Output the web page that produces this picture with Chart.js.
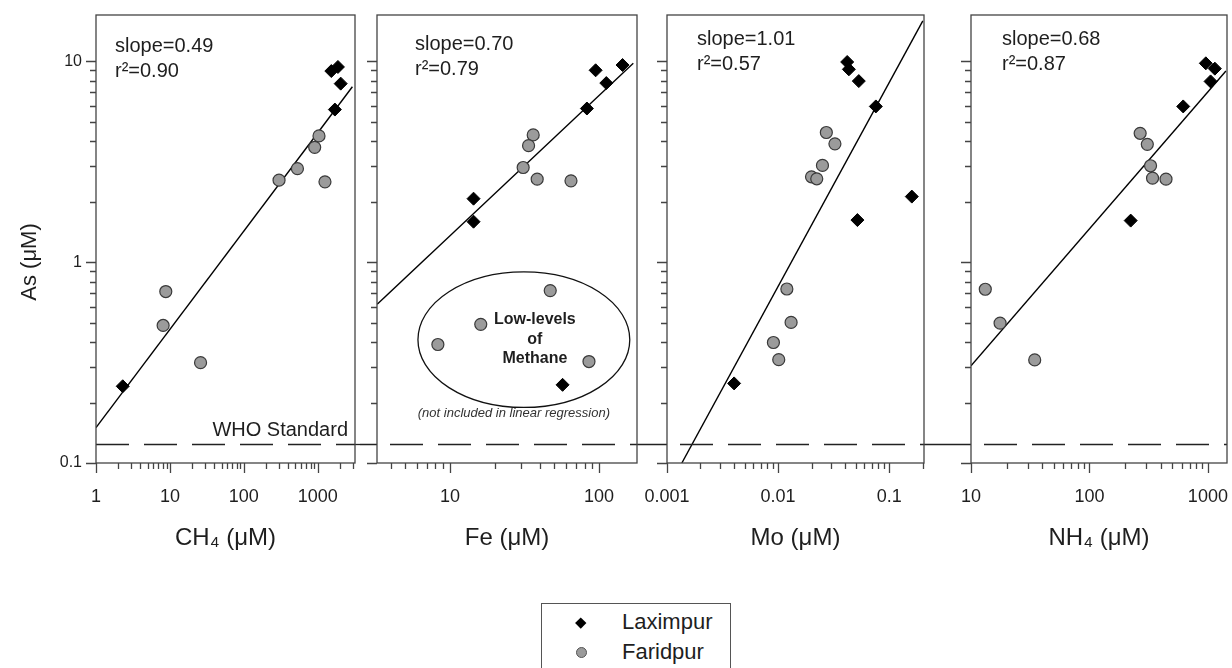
<!DOCTYPE html>
<html>
<head>
<meta charset="utf-8">
<script src="https://cdn.jsdelivr.net/npm/chart.js@4.4.1/dist/chart.umd.min.js"></script>
<style>
  html, body { margin: 0; padding: 0; background: #fff; }
  body { width: 1232px; height: 668px; position: relative; overflow: hidden;
         font-family: 'Liberation Sans', Arial, sans-serif; color: #1e1e1e; }
  .panel { position: absolute; top: 0; height: 560px; }
  #legend { position: absolute; left: 541px; top: 603px; width: 190px; height: 80px;
            border: 1.5px solid #555; box-sizing: border-box; }
  #legend .mark, #legend .label { position: absolute; }
  #legend .label { left: 80px; font-size: 22px; line-height: 24px; }
  #legend .dia { width: 7.5px; height: 7.5px; background: #000; transform: rotate(45deg); left: 35px; }
  #legend .dot { width: 9px; height: 9px; border-radius: 50%; background: #9b9b9b;
                 border: 1px solid #555; left: 34px; }
</style>
</head>
<body>
<div class="panel" style="left:0;width:360px"><canvas id="ch4"></canvas></div>
<div class="panel" style="left:360px;width:282px"><canvas id="fe"></canvas></div>
<div class="panel" style="left:642px;width:287px"><canvas id="mo"></canvas></div>
<div class="panel" style="left:929px;width:303px"><canvas id="nh4"></canvas></div>
<div id="legend">
  <span class="mark dia" style="top:14.5px"></span><span class="label" style="top:6px">Laximpur</span>
  <span class="mark dot" style="top:43px"></span><span class="label" style="top:36px">Faridpur</span>
</div>
<script>
// As (µM) versus CH4, Fe, Mo and NH4 (µM)
const asRange = [0.1, 17];
const whoStandard = 0.125;

const ch4Range = [1, 3200];
const ch4Laximpur = [1530, 1880, 2050, 1710, 2.3];
const asCh4Laximpur = [8.94, 9.37, 7.74, 5.75, 0.241];
const ch4Faridpur = [300, 532, 911, 1042, 1255, 8.8, 8.1, 26];
const asCh4Faridpur = [2.56, 2.92, 3.73, 4.25, 2.51, 0.714, 0.484, 0.316];
const ch4FitX = [1, 2950];
const ch4FitY = [0.150, 7.47];

const feRange = [3.24, 180];
const feLaximpur = [95, 144, 112, 83, 14.4, 14.4, 57];
const asFeLaximpur = [9.02, 9.58, 7.79, 5.82, 2.07, 1.59, 0.245];
const feFaridpur = [36.2, 33.7, 31.0, 38.5, 64.9, 47.1, 16.1, 8.3, 85.7];
const asFeFaridpur = [4.30, 3.80, 2.96, 2.59, 2.54, 0.722, 0.490, 0.389, 0.320];
const feFitX = [3.25, 170];
const feFitY = [0.617, 9.77];
// the "low levels of methane" ellipse, as Fe and As bounds
const lowMethaneFe = [6.1, 161];
const lowMethaneAs = [0.189, 0.894];

const moRange = [0.001, 0.206];
const moLaximpur = [0.0419, 0.0434, 0.0533, 0.0759, 0.160, 0.0518, 0.00402];
const asMoLaximpur = [9.92, 9.12, 7.97, 5.96, 2.12, 1.62, 0.249];
const moFaridpur = [0.0272, 0.0325, 0.0251, 0.0200, 0.0223, 0.0120, 0.0131, 0.00908, 0.01014];
const asMoFaridpur = [4.42, 3.88, 3.03, 2.66, 2.60, 0.735, 0.501, 0.398, 0.327];
const moFitX = [0.00136, 0.201];
const moFitY = [0.1, 15.9];

const nh4Range = [10, 1450];
const nh4Laximpur = [961, 1145, 1054, 619, 223];
const asNh4Laximpur = [9.77, 9.19, 7.94, 5.96, 1.61];
const nh4Faridpur = [268, 308, 328, 341, 443, 13.2, 17.6, 34.5];
const asNh4Faridpur = [4.38, 3.86, 3.02, 2.62, 2.59, 0.733, 0.497, 0.326];
const nh4FitX = [10, 1420];
const nh4FitY = [0.305, 8.94];

const FONT = "'Liberation Sans', Arial, sans-serif";
const INK = '#1e1e1e';
const FRAME = '#444';

const isPow10 = v => Math.abs(Math.log10(v) - Math.round(Math.log10(v))) < 1e-9;
const isNice = v => {
  const m = v / Math.pow(10, Math.floor(Math.log10(v) + 1e-9));
  return Math.abs(m - Math.round(m)) < 1e-6;
};
const fmt = v => String(parseFloat(v.toPrecision(6)));
const pts = (xs, ys) => xs.map((x, i) => ({ x: x, y: ys[i] }));

// per panel text and layout bits, looked up by canvas id
const panels = {
  ch4: { axisW: 96, slope: 'slope=0.49', r2: 'r\u00b2=0.90', tx: 19, ty: 52, first: true },
  fe:  { axisW: 17, slope: 'slope=0.70', r2: 'r\u00b2=0.79', tx: 38, ty: 50 },
  mo:  { axisW: 25, slope: 'slope=1.01', r2: 'r\u00b2=0.57', tx: 30, ty: 45 },
  nh4: { axisW: 42, slope: 'slope=0.68', r2: 'r\u00b2=0.87', tx: 31, ty: 45, last: true }
};

const panelDecor = {
  id: 'panelDecor',
  afterDraw(chart) {
    const p = panels[chart.canvas.id];
    const { ctx, chartArea: a } = chart;
    const x = chart.scales.x, y = chart.scales.y;
    ctx.save();

    // WHO standard line: dashed inside the frame, solid in the gaps
    const wy = Math.round(y.getPixelForValue(whoStandard)) + 0.5;
    ctx.strokeStyle = '#222';
    ctx.lineWidth = 1.3;
    ctx.beginPath();
    if (!p.first) { ctx.moveTo(0, wy); ctx.lineTo(a.left, wy); }
    if (!p.last) { ctx.moveTo(a.right, wy); ctx.lineTo(chart.width, wy); }
    ctx.stroke();
    ctx.setLineDash([33, 15]);
    ctx.lineDashOffset = p.first ? 0 : -13;
    ctx.beginPath();
    ctx.moveTo(a.left, wy); ctx.lineTo(a.right, wy);
    ctx.stroke();
    ctx.setLineDash([]);

    // frame
    ctx.strokeStyle = FRAME;
    ctx.lineWidth = 1.3;
    ctx.strokeRect(a.left, a.top, a.right - a.left, a.bottom - a.top);

    // log ticks, long on decades
    ctx.beginPath();
    x.ticks.forEach(t => {
      if (!isNice(t.value) || t.value < x.min || t.value > x.max) return;
      const px = Math.round(x.getPixelForValue(t.value)) + 0.5;
      ctx.moveTo(px, a.bottom);
      ctx.lineTo(px, a.bottom + (isPow10(t.value) ? 10 : 6));
    });
    y.ticks.forEach(t => {
      if (!isNice(t.value) || t.value < y.min || t.value > y.max) return;
      const py = Math.round(y.getPixelForValue(t.value)) + 0.5;
      ctx.moveTo(a.left, py);
      ctx.lineTo(a.left - (isPow10(t.value) ? 10 : 6), py);
    });
    ctx.stroke();

    // regression stats
    ctx.fillStyle = INK;
    ctx.font = '20px ' + FONT;
    ctx.textAlign = 'left';
    ctx.textBaseline = 'alphabetic';
    ctx.fillText(p.slope, a.left + p.tx, p.ty);
    ctx.fillText(p.r2, a.left + p.tx, p.ty + 25);

    if (p.first) {
      ctx.font = '20px ' + FONT;
      ctx.textAlign = 'right';
      ctx.fillText('WHO Standard', a.right - 7, wy - 9);
      ctx.save();
      ctx.translate(30, 262);
      ctx.rotate(-Math.PI / 2);
      ctx.textAlign = 'center';
      ctx.textBaseline = 'middle';
      ctx.font = '22px ' + FONT;
      ctx.fillText('As (\u03bcM)', 0, 0);
      ctx.restore();
    }

    if (chart.canvas.id === 'fe') {
      const x0 = x.getPixelForValue(lowMethaneFe[0]), x1 = x.getPixelForValue(lowMethaneFe[1]);
      const y0 = y.getPixelForValue(lowMethaneAs[1]), y1 = y.getPixelForValue(lowMethaneAs[0]);
      ctx.strokeStyle = '#111';
      ctx.lineWidth = 1.3;
      ctx.beginPath();
      ctx.ellipse((x0 + x1) / 2, (y0 + y1) / 2, (x1 - x0) / 2, (y1 - y0) / 2, 0, 0, Math.PI * 2);
      ctx.stroke();
      const cx = (x0 + x1) / 2 + 11;
      ctx.textAlign = 'center';
      ctx.textBaseline = 'middle';
      ctx.font = 'bold 16px ' + FONT;
      ctx.fillText('Low-levels', cx, 320);
      ctx.fillText('of', cx, 339.5);
      ctx.fillText('Methane', cx, 359);
      ctx.font = 'italic 13px ' + FONT;
      ctx.fillStyle = '#333';
      ctx.fillText('(not included in linear regression)', (x0 + x1) / 2 - 10, 413);
    }
    ctx.restore();
  }
};

function makePanel(id, range, xTitle, laxX, laxY, farX, farY, fitX, fitY) {
  const p = panels[id];
  return new Chart(document.getElementById(id), {
    type: 'scatter',
    data: {
      datasets: [
        {
          label: 'Laximpur',
          data: pts(laxX, laxY),
          pointStyle: 'rectRot',
          pointRadius: 6.5,
          backgroundColor: '#000',
          borderColor: '#000',
          borderWidth: 1
        },
        {
          label: 'Faridpur',
          data: pts(farX, farY),
          pointStyle: 'circle',
          pointRadius: 6,
          backgroundColor: '#9b9b9b',
          borderColor: '#3a3a3a',
          borderWidth: 1.2
        },
        {
          label: 'fit',
          type: 'line',
          data: pts(fitX, fitY),
          borderColor: '#000',
          borderWidth: 1.4,
          pointRadius: 0,
          fill: false
        }
      ]
    },
    options: {
      responsive: true,
      maintainAspectRatio: false,
      animation: false,
      events: [],
      layout: { autoPadding: false, padding: { top: 15, right: 5, left: 0, bottom: 0 } },
      plugins: { legend: { display: false }, tooltip: { enabled: false } },
      scales: {
        x: {
          type: 'logarithmic',
          min: range[0],
          max: range[1],
          border: { display: false },
          grid: { display: false, drawTicks: true, tickLength: 11 },
          ticks: {
            autoSkip: false,
            maxRotation: 0,
            padding: 12,
            color: INK,
            font: { family: FONT, size: 18 },
            callback: v => isPow10(v) ? fmt(v) : ''
          },
          title: {
            display: true,
            text: xTitle,
            color: INK,
            font: { family: FONT, size: 24 },
            padding: { top: 0, bottom: 7 }
          },
          afterFit: s => { s.height = 97; s.paddingLeft = 0; s.paddingRight = 0; }
        },
        y: {
          type: 'logarithmic',
          min: asRange[0],
          max: asRange[1],
          border: { display: false },
          grid: { display: false, drawTicks: true, tickLength: 11 },
          ticks: {
            display: !!p.first,
            autoSkip: false,
            padding: 3,
            color: INK,
            font: { family: FONT, size: 16 },
            callback: v => isPow10(v) ? fmt(v) : ''
          },
          afterFit: s => { s.width = p.axisW; s.paddingTop = 0; s.paddingBottom = 0; }
        }
      }
    },
    plugins: [panelDecor]
  });
}

makePanel('ch4', ch4Range, 'CH\u2084 (\u03bcM)', ch4Laximpur, asCh4Laximpur, ch4Faridpur, asCh4Faridpur, ch4FitX, ch4FitY);
makePanel('fe', feRange, 'Fe (\u03bcM)', feLaximpur, asFeLaximpur, feFaridpur, asFeFaridpur, feFitX, feFitY);
makePanel('mo', moRange, 'Mo (\u03bcM)', moLaximpur, asMoLaximpur, moFaridpur, asMoFaridpur, moFitX, moFitY);
makePanel('nh4', nh4Range, 'NH\u2084 (\u03bcM)', nh4Laximpur, asNh4Laximpur, nh4Faridpur, asNh4Faridpur, nh4FitX, nh4FitY);
</script>
</body>
</html>
